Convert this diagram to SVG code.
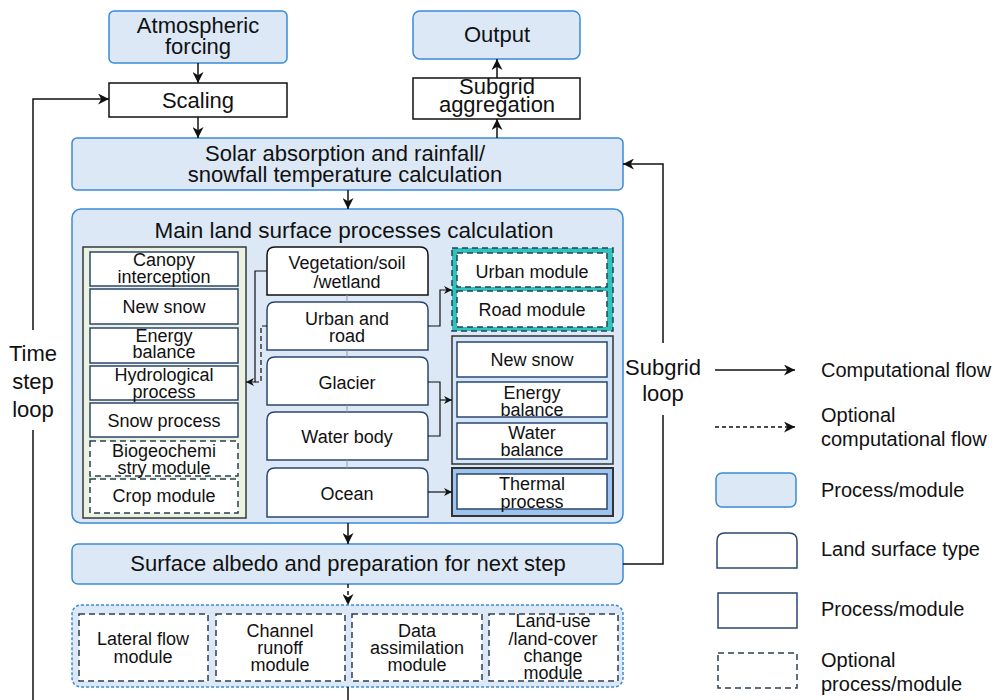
<svg xmlns="http://www.w3.org/2000/svg" width="995" height="700" viewBox="0 0 995 700">
<defs>
<marker id="ah" viewBox="0 0 10 10" refX="10" refY="5" markerWidth="11" markerHeight="11" markerUnits="userSpaceOnUse" orient="auto"><path d="M0,0 L10,5 L0,10 L3,5 Z" fill="#111"/></marker>
<marker id="ahs" viewBox="0 0 10 10" refX="10" refY="5" markerWidth="8" markerHeight="8" markerUnits="userSpaceOnUse" orient="auto"><path d="M0,0 L10,5 L0,10 L3,5 Z" fill="#111"/></marker>
<style>
text{font-family:"Liberation Sans",Arial,sans-serif;fill:#111;text-anchor:middle}
.big{font-size:22px}
.mid{font-size:18px}
.leg{font-size:20px;text-anchor:start}
.blue{fill:#dce8f5;stroke:#3a8bd6;stroke-width:1.5}
.plain{fill:#fff;stroke:#111;stroke-width:1.5}
.proc{fill:#fff;stroke:#2b4570;stroke-width:1.5}
.opt{fill:#fff;stroke:#2b3f55;stroke-width:1.5;stroke-dasharray:6 4}
.lst{fill:#fff;stroke:#2b4570;stroke-width:1.5}
.line{fill:none;stroke:#111;stroke-width:1.5}
.thin{fill:none;stroke:#111;stroke-width:1.2}
</style>
</defs>

<!-- top nodes -->
<g id="atmospheric-forcing"><rect class="blue" x="109" y="11" width="178" height="52" rx="5"/><text class="big" x="198" y="33">Atmospheric</text><text class="big" x="198" y="54">forcing</text></g>
<g id="scaling"><rect class="plain" x="109" y="83" width="178" height="34"/><text class="big" x="198" y="108">Scaling</text></g>
<g id="output"><rect class="blue" x="413" y="11" width="167" height="48" rx="7"/><text class="big" x="497" y="42">Output</text></g>
<g id="subgrid-aggregation"><rect class="plain" x="413" y="78" width="167" height="41"/><text class="big" x="497" y="94">Subgrid</text><text class="big" x="497" y="112">aggregation</text></g>
<g id="solar"><rect class="blue" x="72" y="138" width="551" height="52" rx="5"/><text class="big" x="345" y="161">Solar absorption and rainfall/</text><text class="big" x="345" y="182">snowfall temperature calculation</text></g>

<!-- main land surface -->
<g id="main-land-surface"><rect class="blue" x="72" y="209" width="551" height="314" rx="9"/><text x="354" y="238" style="font-size:22.5px">Main land surface processes calculation</text></g>

<g id="common-processes">
<rect x="83" y="247" width="163" height="271" fill="#ebf2df" stroke="#36393d" stroke-width="1.5"/>
<g id="canopy"><rect class="proc" x="90" y="252" width="148" height="34"/><text class="mid" x="164" y="266">Canopy</text><text class="mid" x="164" y="283">interception</text></g>
<g id="new-snow-1"><rect class="proc" x="90" y="289" width="148" height="35"/><text class="mid" x="164" y="313">New snow</text></g>
<g id="energy-1"><rect class="proc" x="90" y="328" width="148" height="35"/><text class="mid" x="164" y="342">Energy</text><text class="mid" x="164" y="358">balance</text></g>
<g id="hydro"><rect class="proc" x="90" y="366" width="148" height="34"/><text class="mid" x="164" y="381">Hydrological</text><text class="mid" x="164" y="398">process</text></g>
<g id="snow-process"><rect class="proc" x="90" y="403" width="148" height="34"/><text class="mid" x="164" y="427">Snow process</text></g>
<g id="biogeo"><rect class="opt" x="90" y="441" width="148" height="35"/><text class="mid" x="164" y="457">Biogeochemi</text><text class="mid" x="164" y="474">stry module</text></g>
<g id="crop"><rect class="opt" x="90" y="479" width="148" height="34"/><text class="mid" x="164" y="502">Crop module</text></g>
</g>

<g id="vegetation"><path d="M267,295 V255 Q267,247 275,247 H420 Q428,247 428,255 V295 Z" fill="#fff" stroke="#111" stroke-width="1.5"/><text class="mid" x="347" y="269">Vegetation/soil</text><text class="mid" x="347" y="288">/wetland</text></g>
<g id="urban-road"><path d="M267,350 V310 Q267,302 275,302 H420 Q428,302 428,310 V350 Z" class="lst"/><text class="mid" x="347" y="325">Urban and</text><text class="mid" x="347" y="342">road</text></g>
<g id="glacier"><path d="M267,405 V365 Q267,357 275,357 H420 Q428,357 428,365 V405 Z" class="lst"/><text class="mid" x="347" y="389">Glacier</text></g>
<g id="water-body"><path d="M267,460 V420 Q267,412 275,412 H420 Q428,412 428,420 V460 Z" class="lst"/><text class="mid" x="347" y="443">Water body</text></g>
<g id="ocean"><path d="M267,517 V476 Q267,468 275,468 H420 Q428,468 428,476 V517 Z" class="lst"/><text class="mid" x="347" y="500">Ocean</text></g>

<g id="urban-modules">
<rect x="452" y="248" width="161" height="83" fill="#2ec4bd" stroke="#2b3f55" stroke-width="1.5" stroke-dasharray="6 4"/>
<g id="urban-module"><rect class="opt" x="457" y="253" width="150" height="34"/><text class="mid" x="532" y="278">Urban module</text></g>
<g id="road-module"><rect class="opt" x="457" y="291" width="150" height="36"/><text class="mid" x="532" y="316">Road module</text></g>
</g>
<g id="glacier-water-modules">
<rect x="452" y="336" width="161" height="128" fill="#d3e6f8" stroke="#333" stroke-width="1.5"/>
<g id="new-snow-2"><rect class="proc" x="457" y="342" width="150" height="35"/><text class="mid" x="532" y="366">New snow</text></g>
<g id="energy-2"><rect class="proc" x="457" y="382" width="150" height="35"/><text class="mid" x="532" y="399">Energy</text><text class="mid" x="532" y="416">balance</text></g>
<g id="water-balance"><rect class="proc" x="457" y="423" width="150" height="36"/><text class="mid" x="532" y="439">Water</text><text class="mid" x="532" y="456">balance</text></g>
</g>
<g id="thermal-group">
<rect x="452" y="468" width="161" height="48" fill="#9dc3ef" stroke="#333" stroke-width="2"/>
<g id="thermal"><rect class="proc" x="457" y="474" width="150" height="35"/><text class="mid" x="532" y="490">Thermal</text><text class="mid" x="532" y="508">process</text></g>
</g>

<g id="surface-albedo"><rect class="blue" x="72" y="544" width="551" height="40" rx="6"/><text class="big" x="348" y="571">Surface albedo and preparation for next step</text></g>

<g id="optional-modules">
<rect x="72" y="605" width="551" height="82" rx="9" fill="#dce8f5" stroke="#3a8bd6" stroke-width="1.5" stroke-dasharray="3 2"/>
<g id="lateral"><rect class="opt" x="79" y="614" width="129" height="67"/><text class="mid" x="143" y="645">Lateral flow</text><text class="mid" x="143" y="663">module</text></g>
<g id="channel"><rect class="opt" x="216" y="614" width="129" height="67"/><text class="mid" x="280" y="637">Channel</text><text class="mid" x="280" y="654">runoff</text><text class="mid" x="280" y="671">module</text></g>
<g id="data"><rect class="opt" x="352" y="614" width="130" height="67"/><text class="mid" x="417" y="637">Data</text><text class="mid" x="417" y="654">assimilation</text><text class="mid" x="417" y="671">module</text></g>
<g id="landuse"><rect class="opt" x="489" y="614" width="129" height="67"/><text class="mid" x="553" y="627">Land-use</text><text class="mid" x="553" y="645">/land-cover</text><text class="mid" x="553" y="662">change</text><text class="mid" x="553" y="679">module</text></g>
</g>

<!-- loop labels -->
<g id="time-step-loop-label"><text class="big" x="33" y="361">Time</text><text class="big" x="33" y="389">step</text><text class="big" x="33" y="417">loop</text></g>
<g id="subgrid-loop-label"><text class="big" x="663" y="375">Subgrid</text><text class="big" x="663" y="401">loop</text></g>

<!-- legend -->
<g id="legend">
<line class="line" x1="715" y1="370" x2="795" y2="370" marker-end="url(#ah)"/>
<text class="leg" x="821" y="377">Computational flow</text>
<line class="line" x1="715" y1="427" x2="795" y2="427" stroke-dasharray="4 3" marker-end="url(#ah)"/>
<text class="leg" x="821" y="422">Optional</text><text class="leg" x="821" y="446">computational flow</text>
<rect class="blue" x="716" y="473" width="80" height="34" rx="6"/>
<text class="leg" x="821" y="497">Process/module</text>
<path d="M717,568 V541 Q717,533 725,533 H789 Q797,533 797,541 V568 Z" class="lst"/>
<text class="leg" x="821" y="556">Land surface type</text>
<rect class="proc" x="718" y="593" width="79" height="35"/>
<text class="leg" x="821" y="616">Process/module</text>
<rect class="opt" x="718" y="653" width="79" height="35"/>
<text class="leg" x="821" y="667">Optional</text><text class="leg" x="821" y="691">process/module</text>
</g>

<!-- connectors -->
<g id="connectors">
<line class="line" x1="198" y1="63" x2="198" y2="83" marker-end="url(#ah)"/>
<line class="line" x1="198" y1="117" x2="198" y2="138" marker-end="url(#ah)"/>
<line class="line" x1="497" y1="138" x2="497" y2="119" marker-end="url(#ah)"/>
<line class="line" x1="497" y1="78" x2="497" y2="59" marker-end="url(#ah)"/>
<line class="line" x1="348" y1="190" x2="348" y2="209" marker-end="url(#ah)"/>
<line class="line" x1="348" y1="523" x2="348" y2="544" marker-end="url(#ah)"/>
<line class="line" x1="348" y1="584" x2="348" y2="605" stroke-dasharray="4 3" marker-end="url(#ah)"/>
<line class="line" x1="348" y1="687" x2="348" y2="700"/>
<path class="line" d="M33,700 V430"/>
<path class="line" d="M33,330 V99 H109" marker-end="url(#ah)"/>
<path class="line" d="M623,564 H663 V415"/>
<path class="line" d="M663,343 V164 H623" marker-end="url(#ah)"/>
<g stroke="#999" stroke-width="1">
<line x1="347" y1="295" x2="347" y2="302"/><line x1="347" y1="350" x2="347" y2="357"/><line x1="347" y1="405" x2="347" y2="412"/><line x1="347" y1="460" x2="347" y2="468"/>
</g>
<path class="thin" d="M267,271 H255 V382 H246" marker-end="url(#ahs)"/>
<path class="thin" d="M267,326 H261 V382 H255" stroke-dasharray="5 3"/>
<path class="thin" d="M428,326 H440 V290 H452" marker-end="url(#ahs)"/>
<path class="thin" d="M428,382 H440 V436 H428"/>
<path class="thin" d="M440,400 H452" marker-end="url(#ahs)"/>
<path class="thin" d="M428,492 H452" marker-end="url(#ahs)"/>
</g>
</svg>
